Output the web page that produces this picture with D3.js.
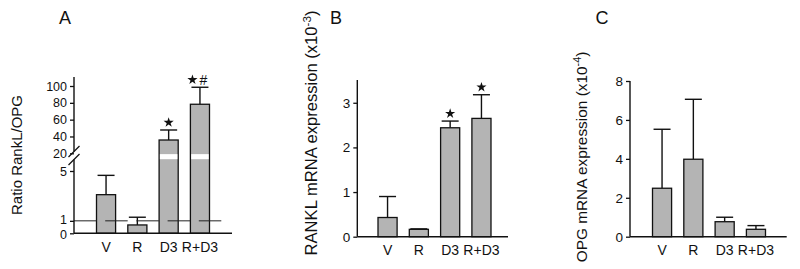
<!DOCTYPE html>
<html>
<head>
<meta charset="utf-8">
<script src="https://cdn.jsdelivr.net/npm/d3@7"></script>
<style>
  body { margin: 0; background: #fff; }
  text { font-family: "Liberation Sans", Arial, Helvetica, sans-serif; fill: #111; }
</style>
</head>
<body>
<svg id="chart" width="800" height="269"></svg>
<script>
var svg = d3.select("#chart");

// groups on the x axis
var categories = ["V", "R", "D3", "R+D3"];

// A: RankL/OPG ratio (mean, upper error)
var ratioMean = [3.1, 0.67, 35.8, 78.3];
var ratioSd = [1.55, 0.62, 11.9, 20.2];
var ratioTicks = [0, 1, 5, 20, 40, 60, 80, 100];
var ratioSig = [[], [], ["*"], ["*", "#"]];

// B: RANKL mRNA (x10^-3)
var ranklMean = [0.43, 0.165, 2.44, 2.65];
var ranklSd = [0.47, 0.01, 0.15, 0.53];
var ranklTicks = [0, 1, 2, 3];
var ranklSig = [[], [], ["*"], ["*"]];

// C: OPG mRNA (x10^-4)
var opgMean = [2.49, 3.98, 0.77, 0.38];
var opgSd = [3.03, 3.08, 0.23, 0.19];
var opgTicks = [0, 2, 4, 6, 8];
var opgSig = [[], [], [], []];

function drawPanel(opt) {
    var g = svg.append("g");

    var x = d3.scaleBand()
        .domain(categories)
        .range(opt.xRange)
        .paddingInner(0.39)
        .paddingOuter(0.195);

    var y = d3.scaleLinear()
        .domain(opt.yDomain)
        .range(opt.yRange);

    var data = categories.map(function (c, i) {
        return { cat: c, mean: opt.mean[i], sd: opt.sd[i], sig: opt.sig[i] };
    });
    var bw = x.bandwidth();
    var cx = function (d) { return x(d.cat) + bw / 2; };

    // error bars (upper only)
    g.selectAll("line.err")
        .data(data)
        .enter().append("line")
        .attr("x1", cx).attr("x2", cx)
        .attr("y1", function (d) { return y(d.mean); })
        .attr("y2", function (d) { return y(d.mean + d.sd); })
        .attr("stroke", "#111").attr("stroke-width", 1.4);
    g.selectAll("line.cap")
        .data(data)
        .enter().append("line")
        .attr("x1", function (d) { return cx(d) - 8.5; })
        .attr("x2", function (d) { return cx(d) + 8.5; })
        .attr("y1", function (d) { return y(d.mean + d.sd); })
        .attr("y2", function (d) { return y(d.mean + d.sd); })
        .attr("stroke", "#111").attr("stroke-width", 1.4);

    // bars
    g.selectAll("rect.bar")
        .data(data)
        .enter().append("rect")
        .attr("x", function (d) { return x(d.cat); })
        .attr("y", function (d) { return y(d.mean); })
        .attr("width", bw)
        .attr("height", function (d) { return y(0) - y(d.mean); })
        .attr("fill", "#b4b4b4")
        .attr("stroke", "#111")
        .attr("stroke-width", 1.3);

    // white gap through bars that cross the axis break
    if (opt.barGap) {
        g.selectAll("rect.gap")
            .data(data.filter(function (d) { return d.mean > opt.barGap[1]; }))
            .enter().append("rect")
            .attr("x", function (d) { return x(d.cat) + 0.8; })
            .attr("y", y(opt.barGap[1]))
            .attr("width", bw - 1.6)
            .attr("height", y(opt.barGap[0]) - y(opt.barGap[1]))
            .attr("fill", "#fff");
    }

    // reference line
    if (opt.refLine !== undefined) {
        g.append("line")
            .attr("x1", opt.axisX).attr("x2", opt.refEnd)
            .attr("y1", y(opt.refLine)).attr("y2", y(opt.refLine))
            .attr("stroke", "#222").attr("stroke-width", 1)
            .attr("stroke-dasharray", "22.5,8.7");
    }

    // significance marks
    data.forEach(function (d) {
        if (!d.sig.length) return;
        var sy = y(d.mean + d.sd) - 7.5;
        var offs = d.sig.length > 1 ? [-7.5, 3.5] : [0];
        d.sig.forEach(function (s, k) {
            if (s === "*") {
                g.append("path")
                    .attr("d", d3.symbol().type(d3.symbolStar).size(32)())
                    .attr("transform", "translate(" + (cx(d) + offs[k]) + "," + sy + ")")
                    .attr("fill", "#111");
            } else {
                g.append("text")
                    .attr("x", cx(d) + offs[k]).attr("y", sy + 5)
                    .attr("text-anchor", "middle")
                    .attr("font-size", 14)
                    .text(s);
            }
        });
    });

    // y axis
    var axis = d3.axisLeft(y)
        .tickValues(opt.ticks)
        .tickSize(4)
        .tickPadding(3)
        .tickFormat(d3.format("d"));
    var ag = g.append("g")
        .attr("transform", "translate(" + opt.axisX + ",0)")
        .call(axis);
    ag.select(".domain").remove();
    ag.selectAll(".tick line").attr("stroke", "#111").attr("stroke-width", 1.3);
    ag.selectAll(".tick text")
        .attr("font-size", opt.tickSize)
        .attr("font-family", "Liberation Sans, Arial, sans-serif")
        .attr("fill", "#111");
    if (opt.tickNudge) {
        ag.selectAll(".tick text")
            .attr("y", function (v) { return opt.tickNudge[v] || 0; });
    }

    var top = opt.yDomain[opt.yDomain.length - 1];
    var segs = opt.axisGap ? [[0, opt.axisGap[0]], [opt.axisGap[1], top]] : [[0, top]];
    segs.forEach(function (s) {
        g.append("line")
            .attr("x1", opt.axisX).attr("x2", opt.axisX)
            .attr("y1", y(s[0])).attr("y2", y(s[1]))
            .attr("stroke", "#111").attr("stroke-width", 1.4);
    });
    if (opt.axisGap) {
        opt.axisGap.forEach(function (v) {
            var yy = y(v);
            g.append("line")
                .attr("x1", opt.axisX - 5.5).attr("y1", yy + 5.5)
                .attr("x2", opt.axisX + 5.5).attr("y2", yy - 5.5)
                .attr("stroke", "#111").attr("stroke-width", 1.3);
        });
    }

    // x axis line
    g.append("line")
        .attr("x1", opt.axisX).attr("x2", opt.xEnd)
        .attr("y1", y(0)).attr("y2", y(0))
        .attr("stroke", "#111").attr("stroke-width", 1.4);

    // category labels
    g.selectAll("text.cat")
        .data(categories)
        .enter().append("text")
        .attr("x", function (c) { return x(c) + bw / 2; })
        .attr("y", y(0) + 18.5)
        .attr("text-anchor", "middle")
        .attr("font-size", 14)
        .text(function (c) { return c; });

    // y label
    var lab = g.append("text")
        .attr("transform", "translate(" + opt.labelX + "," + opt.labelY + ") rotate(-90)")
        .attr("text-anchor", "middle")
        .attr("dy", "0.35em")
        .attr("font-size", opt.labelSize);
    lab.append("tspan").text(opt.label);
    if (opt.labelSup) {
        lab.append("tspan")
            .attr("baseline-shift", "super")
            .attr("font-size", opt.labelSize * 0.7)
            .text(opt.labelSup);
        lab.append("tspan").text(")");
    }

    // panel letter
    g.append("text")
        .attr("x", opt.letterX).attr("y", 24)
        .attr("text-anchor", "middle")
        .attr("font-size", 18)
        .text(opt.letter);
}

drawPanel({
    letter: "A", letterX: 65,
    mean: ratioMean, sd: ratioSd, sig: ratioSig, ticks: ratioTicks,
    tickSize: 12.5, tickNudge: { 0: 1, 1: -1 },
    xRange: [90.4, 215.6], axisX: 74, xEnd: 232,
    yDomain: [0, 5, 20, 110.7], yRange: [233.3, 171, 153.3, 77],
    barGap: [15, 19.3], axisGap: [14.7, 22.1],
    refLine: 1, refEnd: 224,
    label: "Ratio RankL/OPG", labelX: 17, labelY: 155, labelSize: 15
});

drawPanel({
    letter: "B", letterX: 336,
    mean: ranklMean, sd: ranklSd, sig: ranklSig, ticks: ranklTicks,
    tickSize: 13.5,
    xRange: [371.9, 497.1], axisX: 357.3, xEnd: 508,
    yDomain: [0, 3.51], yRange: [236.7, 80],
    label: "RANKL mRNA expression (x10", labelSup: "-3",
    labelX: 311, labelY: 133, labelSize: 16.6
});

drawPanel({
    letter: "C", letterX: 602,
    mean: opgMean, sd: opgSd, sig: opgSig, ticks: opgTicks,
    tickSize: 13.5,
    xRange: [646.4, 771.6], axisX: 630, xEnd: 786.7,
    yDomain: [0, 8], yRange: [236.7, 81],
    label: "OPG mRNA expression (x10", labelSup: "-4",
    labelX: 582, labelY: 157, labelSize: 15.4
});
</script>
</body>
</html>
